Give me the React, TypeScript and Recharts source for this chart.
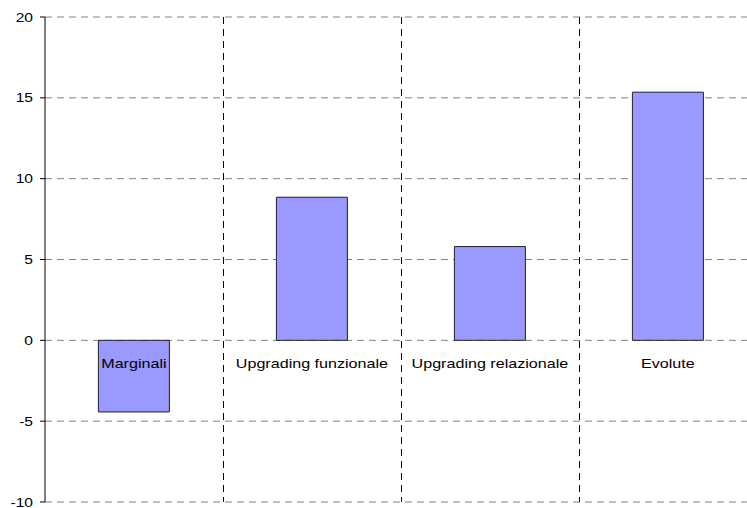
import React from 'react';
import { BarChart, Bar, XAxis, YAxis, CartesianGrid, LabelList } from 'recharts';

const categories = ['Marginali', 'Upgrading funzionale', 'Upgrading relazionale', 'Evolute'];
const values = [-4.43, 8.85, 5.8, 15.35];
const yTicks = [-10, -5, 0, 5, 10, 15, 20];

const data = categories.map((name, i) => ({ name, value: values[i] }));

const FONT = 'Arial, "Liberation Sans", sans-serif';

// category name sits just under the zero line, like the Excel axis crossing at 0
const CategoryLabel = (props: any) => {
  const vb = props.viewBox || props;
  const { x, y, width, height } = vb;
  const zeroY = y + height;
  const cx = x + width / 2;
  return (
    <text
      transform={`translate(${cx}, ${zeroY + 28}) scale(1.24, 1)`}
      textAnchor="middle"
      fontFamily={FONT}
      fontSize={13}
      fill="#000"
    >
      {props.value}
    </text>
  );
};

const YTick = (props: any) => {
  const { x, y, payload } = props;
  return (
    <text
      transform={`translate(${x}, ${y + 4.5}) scale(1.2, 1)`}
      textAnchor="end"
      fontFamily={FONT}
      fontSize={13}
      fill="#000"
    >
      {payload.value}
    </text>
  );
};

const App: React.FC = () => {
  return (
    <div style={{ position: 'fixed', left: 0, top: 0, width: 747, height: 508, overflow: 'hidden', background: '#fff' }}>
      <BarChart
        width={757}
        height={508}
        data={data}
        margin={{ top: 17, right: 0, bottom: 6, left: 0 }}
        barCategoryGap="30%"
      >
        <CartesianGrid
          horizontal={true}
          vertical={false}
          stroke="#808080"
          strokeDasharray="7 5"
        />
        <CartesianGrid
          horizontal={false}
          vertical={true}
          stroke="#000"
          strokeDasharray="7 5"
          verticalCoordinatesGenerator={({ offset }: any) =>
            categories.slice(1).map((_, i) => Math.round(offset.left + (offset.width * (i + 1)) / categories.length) + 0.5)
          }
        />
        <XAxis dataKey="name" hide />
        <YAxis
          width={45}
          domain={[-10, 20]}
          ticks={yTicks}
          interval={0}
          tickSize={5}
          tickMargin={7}
          axisLine={{ stroke: '#000' }}
          tickLine={{ stroke: '#000' }}
          tick={<YTick />}
        />
        <Bar dataKey="value" fill="#9999FF" stroke="#222" strokeWidth={1} isAnimationActive={false}>
          <LabelList dataKey="name" content={<CategoryLabel />} />
        </Bar>
      </BarChart>
    </div>
  );
};

export default App;
